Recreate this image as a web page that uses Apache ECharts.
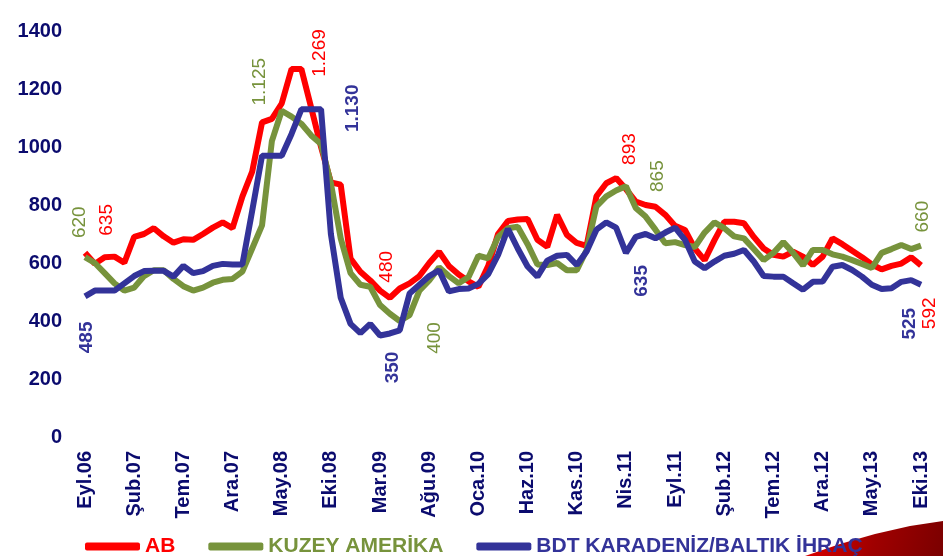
<!DOCTYPE html>
<html>
<head>
<meta charset="utf-8">
<script src="https://cdn.jsdelivr.net/npm/echarts@6/dist/echarts.min.js"></script>
<style>
html,body{margin:0;padding:0;background:#fff;}
#chart{width:943px;height:556px;}
</style>
</head>
<body>
<div id="chart"></div>
<script>
const categories = [
 'Eyl.06','Eki.06','Kas.06','Ara.06',
 'Oca.07','Şub.07','Mar.07','Nis.07','May.07','Haz.07','Tem.07','Ağu.07','Eyl.07','Eki.07','Kas.07','Ara.07',
 'Oca.08','Şub.08','Mar.08','Nis.08','May.08','Haz.08','Tem.08','Ağu.08','Eyl.08','Eki.08','Kas.08','Ara.08',
 'Oca.09','Şub.09','Mar.09','Nis.09','May.09','Haz.09','Tem.09','Ağu.09','Eyl.09','Eki.09','Kas.09','Ara.09',
 'Oca.10','Şub.10','Mar.10','Nis.10','May.10','Haz.10','Tem.10','Ağu.10','Eyl.10','Eki.10','Kas.10','Ara.10',
 'Oca.11','Şub.11','Mar.11','Nis.11','May.11','Haz.11','Tem.11','Ağu.11','Eyl.11','Eki.11','Kas.11','Ara.11',
 'Oca.12','Şub.12','Mar.12','Nis.12','May.12','Haz.12','Tem.12','Ağu.12','Eyl.12','Eki.12','Kas.12','Ara.12',
 'Oca.13','Şub.13','Mar.13','Nis.13','May.13','Haz.13','Tem.13','Ağu.13','Eyl.13','Eki.13'
];
const seriesNames = ['AB', 'KUZEY AMERİKA', 'BDT KARADENİZ/BALTIK İHRAÇ'];
const abValues = [635,597,620,622,601,690,700,720,692,670,682,680,700,722,740,720,829,915,1085,1097,1150,1269,1269,1135,1000,878,870,615,570,540,505,480,512,530,555,600,639,590,560,537,518,590,700,745,750,752,680,656,766,697,669,659,830,875,893,855,812,800,794,766,728,714,650,610,679,742,742,737,690,650,628,622,639,622,593,622,685,665,642,620,595,578,590,598,620,592];
const kuzeyValues = [620,600,565,530,505,515,555,575,575,545,520,505,515,532,542,545,570,650,730,1020,1125,1105,1080,1040,1010,875,685,565,525,518,455,425,400,420,505,540,585,555,530,552,625,616,690,720,725,665,595,593,600,575,575,645,795,830,850,865,790,760,715,668,672,662,655,705,740,720,692,685,648,610,635,672,635,592,645,645,630,622,610,597,583,635,648,662,648,660];
const bdtValues = [485,505,505,505,530,555,572,573,573,553,590,565,572,590,597,595,595,780,970,970,970,1045,1130,1130,1130,700,480,390,358,390,350,357,368,495,525,555,575,502,510,512,528,562,628,718,650,588,553,608,625,628,593,640,715,740,722,635,690,700,685,705,722,680,605,582,605,625,632,645,605,555,553,553,530,508,535,536,587,593,576,553,525,510,513,535,541,525];
const yTicks = [0,200,400,600,800,1000,1200,1400];

// annotated points: series index, category index; screen offsets of the label
const annotations = [
  {s:1, i:0,  sx:-5,  sy:-35},
  {s:0, i:0,  sx:22,  sy:-33},
  {s:2, i:0,  sx:2,   sy:41},
  {s:1, i:20, sx:-22, sy:-29},
  {s:0, i:22, sx:18,  sy:-16},
  {s:2, i:24, sx:32,  sy:-1},
  {s:0, i:31, sx:-3,  sy:-31},
  {s:2, i:30, sx:13,  sy:32},
  {s:1, i:32, sx:35,  sy:17},
  {s:0, i:54, sx:14,  sy:-29},
  {s:1, i:55, sx:32,  sy:-10},
  {s:2, i:55, sx:16,  sy:28},
  {s:1, i:85, sx:2,   sy:-29},
  {s:2, i:85, sx:-11, sy:39},
  {s:0, i:85, sx:9,   sy:48}
];

const colors = ['#FF0000', '#77933C', '#333399'];
const axisColor = '#0B0B6E';
const FONT = '"Liberation Sans", Arial, sans-serif';
const allValues = [abValues, kuzeyValues, bdtValues];

function fmtTR(v){
  return String(v).replace(/\B(?=(\d{3})+(?!\d))/g, '.');
}

function markPointsFor(s){
  return annotations.filter(a => a.s === s).map(a => ({
    coord: [a.i, allValues[s][a.i]],
    value: allValues[s][a.i],
    symbolOffset: [a.sx, a.sy]
  }));
}

const series = seriesNames.map((name, s) => ({
  name: name,
  type: 'line',
  data: allValues[s],
  showSymbol: false,
  symbol: 'none',
  lineStyle: {color: colors[s], width: 6},
  itemStyle: {color: colors[s]},
  z: 2 + s,
  animation: false,
  markPoint: {
    symbol: 'circle',
    symbolSize: 1,
    itemStyle: {color: 'rgba(0,0,0,0)'},
    animation: false,
    label: {
      show: true,
      position: 'inside',
      rotate: 90,
      color: colors[s],
      fontFamily: FONT,
      fontSize: 19,
      fontWeight: s === 2 ? 'bold' : 'normal',
      formatter: p => fmtTR(p.value)
    },
    data: markPointsFor(s)
  }
}));

const chart = echarts.init(document.getElementById('chart'), null, {renderer: 'canvas'});
chart.setOption({
  backgroundColor: '#ffffff',
  animation: false,
  grid: {left: 85, right: 22, top: 31, bottom: 119},
  xAxis: {
    type: 'category',
    data: categories,
    boundaryGap: false,
    axisLine: {show: false},
    axisTick: {show: false},
    splitLine: {show: false},
    axisLabel: {
      interval: 4,
      rotate: 90,
      margin: 14,
      color: axisColor,
      fontFamily: FONT,
      fontSize: 20,
      fontWeight: 'bold'
    }
  },
  yAxis: {
    type: 'value',
    min: yTicks[0],
    max: yTicks[yTicks.length - 1],
    interval: 200,
    axisLine: {show: false},
    axisTick: {show: false},
    splitLine: {show: false},
    axisLabel: {
      margin: 23,
      color: axisColor,
      fontFamily: FONT,
      fontSize: 20,
      fontWeight: 'bold',
      formatter: v => String(v)
    }
  },
  legend: {
    left: 80,
    top: 531,
    itemWidth: 55,
    itemHeight: 8,
    itemGap: 33,
    selectedMode: false,
    icon: 'roundRect',
    data: seriesNames.map((n, s) => ({name: n, textStyle: {color: colors[s]}})),
    textStyle: {fontFamily: FONT, fontSize: 21, fontWeight: 'bold'}
  },
  graphic: [{
    type: 'polygon',
    z: 0,
    shape: {points: [[805,556],[840,544],[875,534],[910,526],[943,521],[943,556]]},
    style: {
      fill: {
        type: 'linear', x: 0, y: 0, x2: 1, y2: 1,
        colorStops: [
          {offset: 0, color: '#E00000'},
          {offset: 0.5, color: '#A00000'},
          {offset: 1, color: '#7A0000'}
        ]
      }
    }
  }],
  series: series
});
</script>
</body>
</html>
